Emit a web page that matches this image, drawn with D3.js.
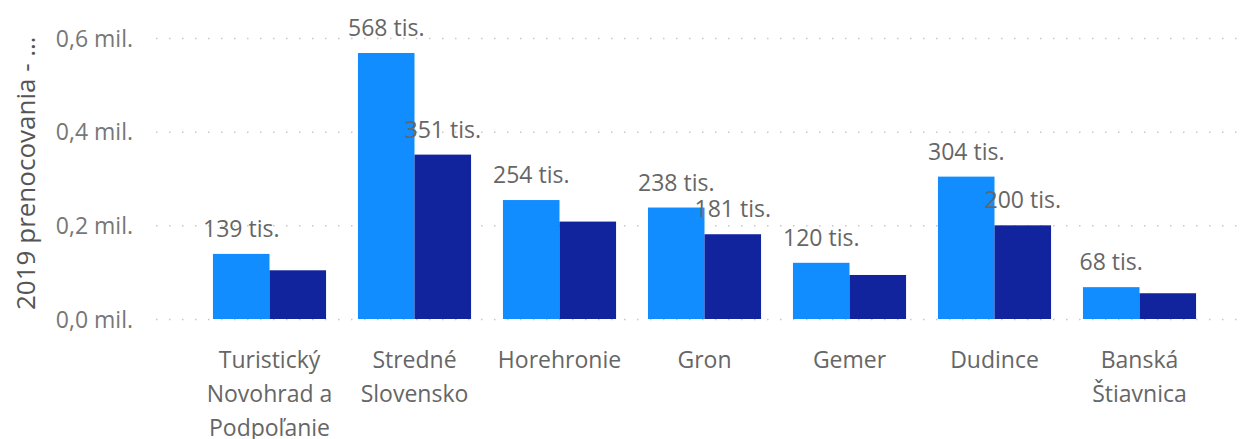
<!DOCTYPE html>
<html>
<head>
<meta charset="utf-8">
<script src="https://cdn.jsdelivr.net/npm/d3@7"></script>
<style>
  body { margin: 0; background: #fff; }
  text { font-family: "Segoe UI", "Open Sans", sans-serif; }
</style>
</head>
<body>
<div id="chart"></div>
<script>
// data
var regions = ["Turistický Novohrad a Podpoľanie", "Stredné Slovensko", "Horehronie", "Gron", "Gemer", "Dudince", "Banská Štiavnica"];
var nights2019 = [139000, 568000, 254000, 238000, 120000, 304000, 68000];
var nightsOther = [104000, 351000, 208000, 181000, 94000, 200000, 55000];
var showOtherLabel = [false, true, false, true, false, true, false];
var yTicks = [0, 200000, 400000, 600000];
var yTitle = "2019 prenocovania - …";

var WIDTH = 1246, HEIGHT = 439;
var LIGHT = "#118dff", DARK = "#12239e";

var svg = d3.select("#chart").append("svg")
  .attr("width", WIDTH)
  .attr("height", HEIGHT);

var x = d3.scaleBand()
  .domain(regions)
  .range([197, 1212])
  .paddingInner(0.22)
  .paddingOuter(0.11);

var x1 = d3.scaleBand()
  .domain([0, 1])
  .range([0, x.bandwidth()]);

var y = d3.scaleLinear()
  .domain([0, 600000])
  .range([319, 38]);

function fmtMil(v) { return d3.format(".1f")(v / 1e6).replace(".", ",") + " mil."; }
function fmtTis(v) { return Math.round(v / 1000) + " tis."; }

// gridlines
svg.append("g")
  .selectAll("line")
  .data(yTicks)
  .enter()
  .append("line")
  .attr("x1", 156)
  .attr("x2", 1242)
  .attr("y1", function(d) { return y(d) + 0.5; })
  .attr("y2", function(d) { return y(d) + 0.5; })
  .attr("stroke", "#c8c8c8")
  .attr("stroke-width", 1.5)
  .attr("stroke-dasharray", "1.5,11.5");

// y axis
var yAxis = svg.append("g")
  .attr("transform", "translate(133,0)")
  .call(d3.axisLeft(y).tickValues(yTicks).tickFormat(fmtMil).tickSize(0).tickPadding(0));
yAxis.select(".domain").remove();
yAxis.selectAll("text")
  .attr("fill", "#777")
  .style("font-size", "23px")
  .attr("dy", "0.35em");

svg.append("text")
  .attr("transform", "translate(35,310) rotate(-90)")
  .attr("fill", "#555")
  .style("font-size", "26px")
  .text(yTitle);

// bars
var groups = svg.append("g")
  .selectAll("g")
  .data(regions)
  .enter()
  .append("g")
  .attr("transform", function(d) { return "translate(" + x(d) + ",0)"; });

groups.append("rect")
  .attr("x", x1(0))
  .attr("width", x1.bandwidth())
  .attr("y", function(d, i) { return y(nights2019[i]); })
  .attr("height", function(d, i) { return y(0) - y(nights2019[i]); })
  .attr("fill", LIGHT);

groups.append("rect")
  .attr("x", x1(1))
  .attr("width", x1.bandwidth())
  .attr("y", function(d, i) { return y(nightsOther[i]); })
  .attr("height", function(d, i) { return y(0) - y(nightsOther[i]); })
  .attr("fill", DARK);

// data labels
groups.append("text")
  .attr("x", x1(0) + x1.bandwidth() / 2)
  .attr("y", function(d, i) { return y(nights2019[i]) - 17; })
  .attr("text-anchor", "middle")
  .attr("fill", "#666")
  .style("font-size", "23px")
  .text(function(d, i) { return fmtTis(nights2019[i]); });

groups.filter(function(d, i) { return showOtherLabel[i]; })
  .append("text")
  .attr("x", x1(1) + x1.bandwidth() / 2)
  .attr("y", function(d) { return y(nightsOther[regions.indexOf(d)]) - 17; })
  .attr("text-anchor", "middle")
  .attr("fill", "#666")
  .style("font-size", "23px")
  .text(function(d) { return fmtTis(nightsOther[regions.indexOf(d)]); });

// x axis
var xAxis = svg.append("g")
  .attr("transform", "translate(0,319)")
  .call(d3.axisBottom(x).tickSize(0).tickPadding(0));
xAxis.select(".domain").remove();
xAxis.selectAll("text")
  .attr("fill", "#666")
  .style("font-size", "23px")
  .attr("y", 49)
  .attr("dy", 0)
  .call(wrap, 140);

function wrap(texts, width) {
  texts.each(function() {
    var text = d3.select(this),
        words = text.text().split(/\s+/),
        line = [],
        lineNo = 0,
        yy = text.attr("y"),
        tspan = text.text(null).append("tspan").attr("x", 0).attr("y", yy);
    words.forEach(function(w) {
      line.push(w);
      tspan.text(line.join(" "));
      if (tspan.node().getComputedTextLength() > width && line.length > 1) {
        line.pop();
        tspan.text(line.join(" "));
        line = [w];
        lineNo++;
        tspan = text.append("tspan").attr("x", 0).attr("y", +yy + lineNo * 34).text(w);
      }
    });
  });
}
</script>
</body>
</html>
